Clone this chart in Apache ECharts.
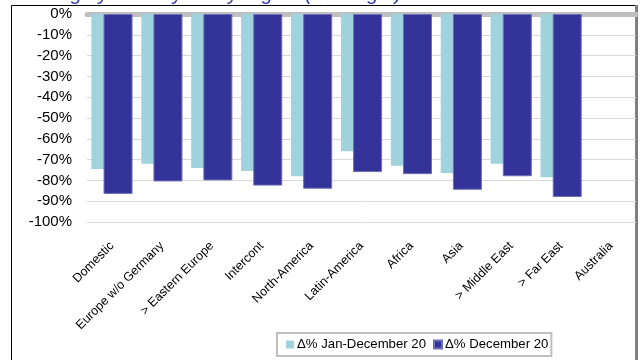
<!DOCTYPE html>
<html>
<head>
<meta charset="utf-8">
<script src="https://cdn.jsdelivr.net/npm/echarts@6/dist/echarts.min.js"></script>
<style>
  html, body { margin: 0; padding: 0; background: #fff; }
  #main { width: 641px; height: 360px; }
</style>
</head>
<body>
<div id="main"></div>
<script>
// regions on the x axis
var regions = ['Domestic', 'Europe w/o Germany', '> Eastern Europe', 'Intercont', 'North-America',
  'Latin-America', 'Africa', 'Asia', '> Middle East', '> Far East', 'Australia'];
// change in % (Jan-Dec and December alone), Australia has no value
var janDec = [-74.5, -72, -74, -75.5, -78, -66, -73, -76.5, -72, -78.5, null];
var december = [-86.5, -80.5, -80, -82.5, -84, -76, -77, -84.5, -78, -88, null];
var yTicks = [0, -10, -20, -30, -40, -50, -60, -70, -80, -90, -100];

var seriesNames = ['\u0394% Jan-December 20', '\u0394% December 20'];
var font = '"Liberation Sans", Arial, sans-serif';

var chart = echarts.init(document.getElementById('main'));

var option = {
  backgroundColor: '#ffffff',
  animation: false,
  textStyle: { fontFamily: font },
  graphic: [
    { // frame around the chart
      type: 'polyline', silent: true,
      shape: { points: [[11.5, 360], [11.5, 5.5], [636, 5.5]] },
      style: { stroke: '#000', lineWidth: 1, fill: null }
    },
    {
      type: 'line', silent: true,
      shape: { x1: 636.5, y1: 5, x2: 636.5, y2: 360 },
      style: { stroke: '#808080', lineWidth: 3 }
    },
    { // title is cut at the top of the picture
      type: 'text', left: 23, top: -16, silent: true,
      style: {
        text: 'Change year-on-year by region (air freight)',
        font: 'italic 20px ' + font,
        fill: '#3333aa'
      }
    }
  ],
  legend: {
    left: 277, top: 333,
    padding: [5, 3, 5, 9],
    borderColor: '#bfbfbf', borderWidth: 2,
    backgroundColor: '#fff',
    itemWidth: 8, itemHeight: 8, itemGap: 7,
    icon: 'rect',
    textStyle: { fontSize: 13.2, color: '#000', fontFamily: font, padding: [0, 0, 0, -2] },
    data: seriesNames
  },
  grid: { left: 87, right: 5, top: 14, bottom: 138 },
  xAxis: [
    {
      type: 'category',
      data: regions,
      position: 'bottom',
      axisLine: { show: false, onZero: false },
      axisTick: { show: false },
      axisLabel: {
        rotate: 45, interval: 0, margin: 22,
        fontSize: 12.5, color: '#000', fontFamily: font
      }
    },
    { // thick grey zero line at the top
      type: 'category',
      data: regions,
      position: 'top',
      axisLine: { show: true, onZero: false, lineStyle: { color: '#bfbfbf', width: 5 } },
      axisTick: { show: false },
      axisLabel: { show: false }
    }
  ],
  yAxis: {
    type: 'value',
    min: -100, max: 0, interval: 10,
    axisLine: { show: false },
    axisTick: { show: false },
    splitLine: { lineStyle: { color: '#d9d9d9', width: 1 } },
    axisLabel: {
      margin: 15, fontSize: 15, color: '#000', fontFamily: font,
      formatter: function (v) { return yTicks.indexOf(v) >= 0 ? v + '%' : ''; }
    }
  },
  series: [
    {
      name: seriesNames[0],
      type: 'bar',
      xAxisIndex: 0,
      data: janDec,
      barWidth: 29,
      barGap: '-58%',
      itemStyle: { color: '#a0d3dd' }
    },
    {
      name: seriesNames[1],
      type: 'bar',
      xAxisIndex: 0,
      data: december,
      barWidth: 29,
      barGap: '-58%',
      itemStyle: { color: '#333399', borderColor: '#6f6fb5', borderWidth: 1 }
    }
  ]
};

chart.setOption(option);
</script>
</body>
</html>
